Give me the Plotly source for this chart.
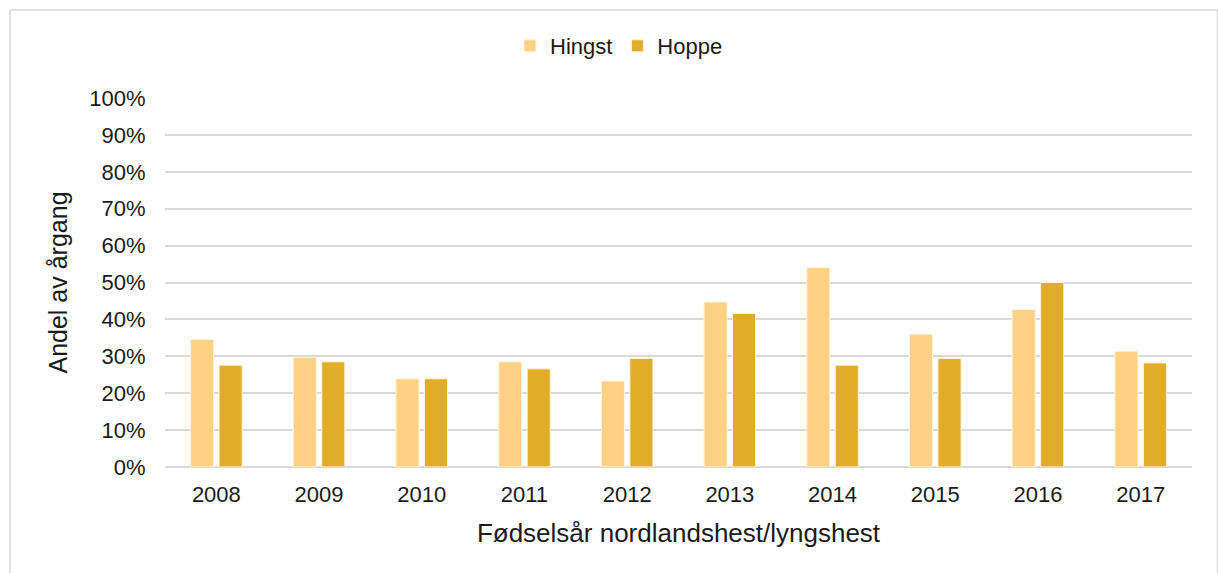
import plotly.graph_objects as go

years = ["2008", "2009", "2010", "2011", "2012", "2013", "2014", "2015", "2016", "2017"]
hingst = [34.6, 29.7, 23.9, 28.5, 23.3, 44.7, 54.0, 36.0, 42.7, 31.4]
hoppe = [27.6, 28.5, 23.9, 26.6, 29.4, 41.6, 27.6, 29.4, 50.0, 28.2]
y_ticks = list(range(0, 101, 10))
y_tick_labels = [f"{v}%" for v in y_ticks]

FONT = "Liberation Sans, Arial, sans-serif"
TXT = "#1a1a1a"

fig = go.Figure()
fig.add_trace(go.Bar(name="Hingst", x=years, y=hingst,
                     marker=dict(color="#FED185", line=dict(color="#FFF4DC", width=1))))
fig.add_trace(go.Bar(name="Hoppe", x=years, y=hoppe,
                     marker=dict(color="#E1AC27", line=dict(color="#FFF4DC", width=1))))

L, R, T, B = 165, 26, 98, 106
W, H = 1218, 573
pw = W - L - R
ph = H - T - B

def px_x(px):
    return (px - L) / pw

def px_y(py):
    return (H - B - py) / ph

fig.add_shape(type="rect", xref="paper", yref="paper",
              x0=px_x(10), x1=px_x(1217.5), y0=px_y(10), y1=px_y(580),
              line=dict(color="#D9D9D9", width=1.5), layer="below")

fig.update_layout(
    width=W, height=H,
    margin=dict(l=L, r=R, t=T, b=B, autoexpand=False),
    paper_bgcolor="white", plot_bgcolor="white",
    barmode="group", bargap=0.445, bargroupgap=0.19,
    font=dict(family=FONT, size=22, color=TXT),
    legend=dict(orientation="h", x=px_x(619), xanchor="center",
                y=px_y(46), yanchor="middle",
                font=dict(family=FONT, size=22, color=TXT),
                itemwidth=30, traceorder="normal"),
    xaxis=dict(showgrid=False, showline=False, zeroline=False,
               ticks="outside", ticklen=8, tickcolor="rgba(0,0,0,0)",
               tickfont=dict(family=FONT, size=22, color=TXT),
               title=dict(text="Fødselsår nordlandshest/lyngshest",
                          font=dict(family=FONT, size=26, color=TXT), standoff=17)),
    yaxis=dict(range=[0, 100], tickvals=y_ticks, ticktext=y_tick_labels,
               showgrid=True, gridcolor="#D9D9D9", gridwidth=1.5,
               zeroline=True, zerolinecolor="#D9D9D9", zerolinewidth=1.5,
               showline=False, ticks="outside", ticklen=14, tickcolor="rgba(0,0,0,0)",
               tickfont=dict(family=FONT, size=22, color=TXT),
               title=dict(text="Andel av årgang",
                          font=dict(family=FONT, size=25, color=TXT), standoff=14)),
)

fig.write_html("out.html", config={"displayModeBar": False},
               post_script="document.body.style.margin='0px';")
